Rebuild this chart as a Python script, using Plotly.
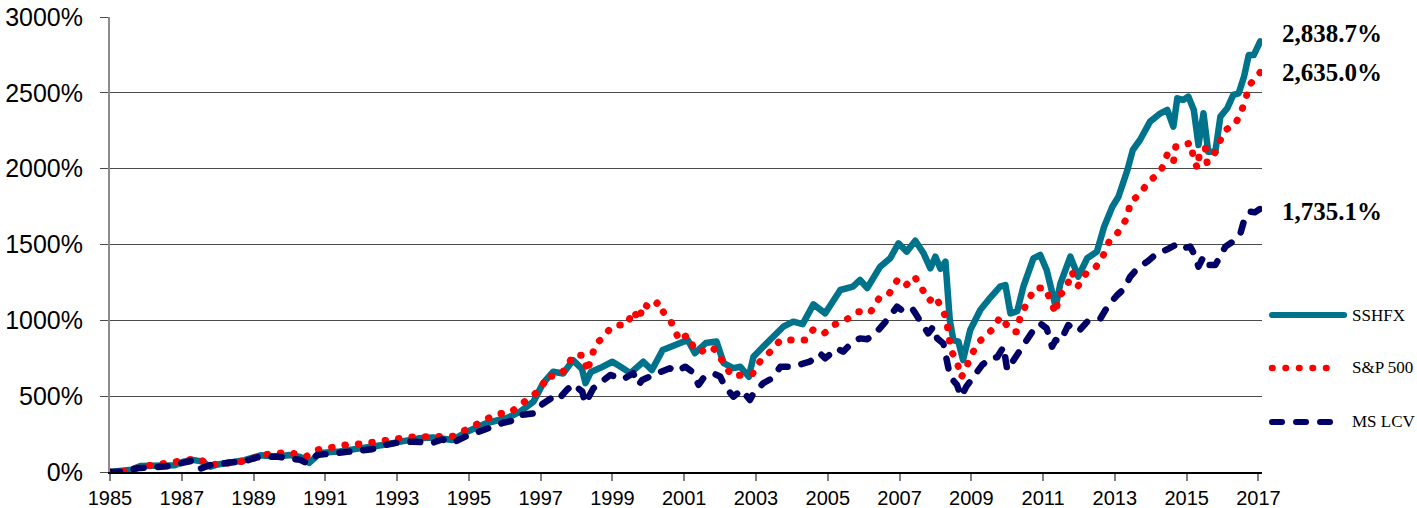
import plotly.graph_objects as go

# ---- cumulative return series (percent), sampled along the time axis ----
sshfx_t = [1985.0, 1985.3, 1985.6, 1985.85, 1986.2, 1986.5, 1986.8, 1987.05, 1987.3, 1987.55,
           1987.8, 1988.0, 1988.4, 1988.75, 1989.2, 1989.65, 1990.0, 1990.3, 1990.55, 1990.85,
           1991.4, 1991.8, 1992.15, 1992.6, 1993.1, 1993.6, 1994.0, 1994.55, 1994.95, 1995.5,
           1996.07, 1996.43, 1996.8, 1997.07, 1997.35, 1997.63, 1997.9, 1998.15, 1998.25, 1998.4,
           1998.65, 1999.0, 1999.25, 1999.5, 1999.86, 2000.1, 2000.4, 2000.7, 2001.1, 2001.3,
           2001.6, 2001.9, 2002.1, 2002.37, 2002.56, 2002.8, 2002.93, 2003.2, 2003.5, 2003.76,
           2004.04, 2004.3, 2004.6, 2004.93, 2005.35, 2005.7, 2005.9, 2006.1, 2006.46, 2006.74,
           2006.97, 2007.2, 2007.44, 2007.67, 2007.86, 2008.0, 2008.14, 2008.28, 2008.4, 2008.5,
           2008.64, 2008.77, 2008.97, 2009.25, 2009.53, 2009.8, 2009.95, 2010.09, 2010.28, 2010.45,
           2010.73, 2010.92, 2011.1, 2011.25, 2011.35, 2011.48, 2011.76, 2011.98, 2012.23, 2012.5,
           2012.7, 2012.93, 2013.1, 2013.35, 2013.5, 2013.7, 2013.98, 2014.27, 2014.46, 2014.63,
           2014.74, 2014.9, 2015.05, 2015.2, 2015.33, 2015.47, 2015.6, 2015.8, 2015.94, 2016.13,
           2016.3, 2016.45, 2016.6, 2016.73, 2016.87, 2017.05]
sshfx_v = [0, 3, 15, 40, 42, 35, 45, 68, 80, 70,
           35, 50, 60, 78, 110, 100, 112, 100, 60, 125,
           136, 147, 158, 178, 200, 222, 228, 211, 266, 323,
           356, 398, 464, 586, 661, 650, 738, 680, 586, 660,
           685, 727, 690, 652, 727, 672, 804, 837, 870, 784,
           850, 860, 718, 685, 694, 628, 760, 826, 892, 958,
           991, 975, 1105, 1046, 1200, 1222, 1266, 1213, 1354, 1409,
           1508, 1453, 1525, 1442, 1343, 1420, 1340, 1387, 1002, 870,
           860, 738, 936, 1068, 1150, 1222, 1233, 1046, 1060, 1222,
           1409, 1431, 1332, 1156, 1090, 1240, 1420, 1288, 1409, 1453,
           1617, 1749, 1815, 1991, 2123, 2189, 2310, 2365, 2387, 2277,
           2464, 2453, 2475, 2387, 2156, 2365, 2112, 2112, 2343, 2398,
           2486, 2497, 2607, 2749, 2749, 2838.7]

sp500_t = [1985.0, 1985.5, 1985.85, 1986.3, 1986.7, 1987.1, 1987.5, 1987.8, 1987.95, 1988.5,
           1988.9, 1989.2, 1989.6, 1990.0, 1990.45, 1990.8, 1991.2, 1991.6, 1992.06, 1992.47,
           1992.9, 1993.3, 1993.8, 1994.2, 1994.56, 1995.0, 1995.37, 1995.76, 1996.15, 1996.48,
           1996.76, 1997.0, 1997.2, 1997.4, 1997.7, 1997.9, 1998.2, 1998.3, 1998.4, 1998.55,
           1998.74, 1998.96, 1999.17, 1999.4, 1999.58, 1999.75, 1999.85, 2000.1, 2000.28, 2000.45,
           2000.64, 2000.73, 2000.87, 2001.08, 2001.28, 2001.45, 2001.7, 2001.92, 2002.1, 2002.34,
           2002.58, 2002.9, 2003.12, 2003.4, 2003.68, 2004.03, 2004.38, 2004.6, 2004.9, 2005.2,
           2005.5, 2005.85, 2006.18, 2006.43, 2006.7, 2006.94, 2007.16, 2007.42, 2007.63, 2007.83,
           2008.0, 2008.17, 2008.3, 2008.43, 2008.6, 2008.72, 2008.83, 2009.0, 2009.2, 2009.44,
           2009.64, 2009.8, 2009.97, 2010.14, 2010.28, 2010.37, 2010.56, 2010.76, 2011.06, 2011.25,
           2011.35, 2011.43, 2011.65, 2011.8, 2011.98, 2012.2, 2012.46, 2012.68, 2012.86, 2013.07,
           2013.2, 2013.35, 2013.43, 2013.6, 2013.7, 2013.93, 2014.15, 2014.32, 2014.46, 2014.63,
           2014.7, 2014.94, 2015.13, 2015.18, 2015.3, 2015.36, 2015.52, 2015.57, 2015.75, 2015.9,
           2016.08, 2016.34, 2016.45, 2016.63, 2016.73, 2017.05]
sp500_v = [0, 5, 35, 45, 62, 80, 85, 40, 53, 62,
           80, 112, 125, 130, 100, 147, 163, 180, 187, 196,
           215, 230, 236, 233, 236, 288, 332, 382, 391, 453,
           508, 545, 640, 625, 677, 769, 769, 660, 750, 848,
           885, 954, 970, 970, 1063, 1002, 1108, 1077, 1123, 1040,
           987, 932, 866, 903, 815, 789, 826, 800, 710, 633,
           640, 646, 732, 793, 870, 870, 870, 941, 914, 973,
           1002, 1057, 1050, 1145, 1171, 1266, 1226, 1288, 1200, 1129,
           1160, 1079, 1017, 804, 727, 624, 672, 771, 855, 908,
           951, 1024, 980, 925, 925, 1035, 1116, 1211, 1215, 1112,
           1046, 1156, 1211, 1321, 1228, 1310, 1347, 1431, 1530, 1574,
           1622, 1679, 1782, 1815, 1830, 1914, 1953, 2006, 2094, 2040,
           2149, 2160, 2170, 2075, 2002, 2105, 2138, 2040, 2080, 2170,
           2255, 2290, 2338, 2441, 2545, 2635.0]

mslcv_t = [1985.0, 1985.3, 1985.75, 1986.4, 1986.7, 1987.05, 1987.3, 1987.5, 1987.8, 1988.35,
           1988.8, 1989.1, 1989.65, 1990.3, 1990.5, 1990.77, 1991.2, 1991.5, 1991.97, 1992.3,
           1992.7, 1993.08, 1993.45, 1994.0, 1994.25, 1994.56, 1994.9, 1995.26, 1995.6, 1995.96,
           1996.3, 1996.43, 1996.85, 1997.05, 1997.36, 1997.5, 1997.73, 1997.9, 1998.16, 1998.24,
           1998.47, 1998.7, 1998.94, 1999.3, 1999.58, 1999.73, 1999.83, 2000.25, 2000.6, 2000.75,
           2001.03, 2001.22, 2001.4, 2001.53, 2001.8, 2002.0, 2002.14, 2002.37, 2002.6, 2002.83,
           2002.93, 2003.2, 2003.45, 2003.68, 2003.95, 2004.18, 2004.5, 2004.78, 2004.93, 2005.26,
           2005.43, 2005.7, 2005.9, 2006.1, 2006.37, 2006.65, 2006.93, 2007.1, 2007.35, 2007.44,
           2007.63, 2007.8, 2007.94, 2008.05, 2008.22, 2008.32, 2008.41, 2008.6, 2008.72, 2008.86,
           2009.06, 2009.3, 2009.53, 2009.72, 2009.9, 2010.0, 2010.18, 2010.45, 2010.73, 2010.92,
           2011.1, 2011.25, 2011.35, 2011.48, 2011.7, 2011.98, 2012.23, 2012.6, 2012.82, 2013.07,
           2013.24, 2013.43, 2013.63, 2013.9, 2014.18, 2014.46, 2014.74, 2014.9, 2015.1, 2015.2,
           2015.33, 2015.47, 2015.6, 2015.8, 2015.94, 2016.08, 2016.36, 2016.5, 2016.63, 2016.77,
           2016.9, 2017.05]
mslcv_v = [0, 2, 24, 35, 40, 62, 75, 20, 46, 62,
           75, 97, 102, 80, 57, 112, 123, 128, 147, 150,
           180, 196, 200, 193, 215, 193, 233, 266, 288, 325,
           343, 376, 387, 448, 497, 480, 541, 580, 530, 453,
           552, 589, 640, 611, 651, 574, 607, 651, 684, 662,
           694, 661, 574, 618, 651, 630, 563, 497, 541, 475,
           519, 585, 618, 694, 694, 705, 727, 782, 750, 815,
           793, 859, 881, 875, 925, 1002, 1090, 1060, 1079, 1046,
           969, 914, 958, 881, 848, 716, 628, 574, 497, 563,
           628, 705, 750, 757, 826, 672, 738, 837, 936, 980,
           947, 826, 870, 859, 969, 925, 991, 1013, 1101, 1167,
           1204, 1288, 1343, 1387, 1442, 1468, 1503, 1475, 1486, 1442,
           1354, 1420, 1365, 1365, 1420, 1486, 1530, 1574, 1683, 1716,
           1712, 1735.1]

x_ticks = list(range(1985, 2018, 2))
y_ticks = [0, 500, 1000, 1500, 2000, 2500, 3000]
y_ticktext = [f"{v}%" for v in y_ticks]

TEAL = "#00738C"
RED = "#FF0000"
NAVY = "#000066"

series = [
    ("SSHFX", sshfx_t, sshfx_v, dict(color=TEAL, width=6.5, dash="solid")),
    ("S&P 500", sp500_t, sp500_v, dict(color=RED, width=7, dash="0.5px,13px")),
    ("MS LCV", mslcv_t, mslcv_v, dict(color=NAVY, width=6.5, dash="10px,14px")),
]

Y_MAX = 3000
fig = go.Figure()
for name, t, v, line in series:
    fig.add_trace(go.Scatter(x=t, y=v, mode="lines", name=name, line=line,
                             showlegend=False, hoverinfo="skip"))

# end-of-period value labels, placed at each series' final value
end_labels = [(sshfx_v[-1], 8), (sp500_v[-1], 0), (mslcv_v[-1], -3)]
for val, shift in end_labels:
    fig.add_annotation(x=1.0157, y=val / Y_MAX, xref="paper", yref="paper",
                       xanchor="left", yanchor="middle", yshift=shift,
                       text=f"{val:,.1f}%", showarrow=False,
                       font=dict(family="Liberation Serif", size=25, color="black",
                                 weight="bold"))

# hand-placed legend on the right: (row height, sample end, series)
legend_rows = [(0.345, 1.0713, series[0]),
               (0.2286, 1.0591, series[1]),
               (0.1099, 1.0591, series[2])]
for ypos, x_end, (name, _, _, line) in legend_rows:
    fig.add_shape(type="line", xref="paper", yref="paper",
                  x0=1.0087, x1=x_end, y0=ypos, y1=ypos,
                  line=dict(color=line["color"], width=line["width"] - 0.5,
                            dash=line["dash"]))
    fig.add_annotation(x=1.0765, y=ypos, xref="paper", yref="paper",
                       xanchor="left", yanchor="middle", text=name,
                       showarrow=False,
                       font=dict(family="Liberation Serif", size=17, color="black"))

fig.update_layout(
    width=1417, height=508,
    margin=dict(l=110, r=155, t=17, b=36),
    paper_bgcolor="white", plot_bgcolor="white",
    showlegend=False,
    font=dict(family="Liberation Sans, Arial", color="black"),
)
fig.update_xaxes(
    range=[1985, 2017.1], tickvals=x_ticks, ticktext=[str(v) for v in x_ticks],
    showgrid=False, zeroline=False, showline=True, linecolor="black", linewidth=1.5,
    ticks="outside", ticklen=7, tickcolor="#808080", tickwidth=2,
    ticklabelstandoff=0, automargin=False,
    tickfont=dict(size=20, family="Liberation Sans, Arial"),
)
fig.update_yaxes(
    range=[0, Y_MAX], tickvals=y_ticks, ticktext=y_ticktext,
    showgrid=True, gridcolor="#4a4a4a", gridwidth=1.2, zeroline=False,
    showline=True, linecolor="#8c8c8c", linewidth=2,
    ticks="outside", ticklen=8, tickcolor="#4a4a4a", tickwidth=1.2,
    ticklabelstandoff=12, automargin=False,
    tickfont=dict(size=25, family="Liberation Sans, Arial"),
)

round_caps = """
var s = document.createElement('style');
s.textContent = '.js-plotly-plot .scatterlayer path.js-line, .js-plotly-plot .shapelayer path' +
  '{stroke-linecap: round !important; stroke-linejoin: round !important;}';
document.head.appendChild(s);
"""
fig.write_html("out.html", post_script=round_caps)
